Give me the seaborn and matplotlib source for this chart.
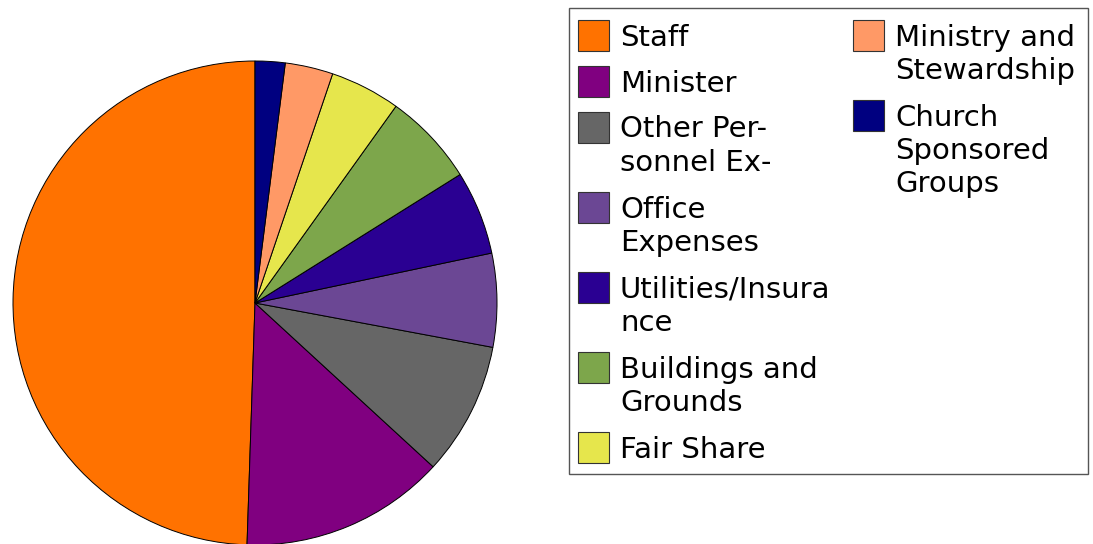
import numpy as np
import pandas as pd

import matplotlib
matplotlib.use('Agg')
import matplotlib.pyplot as plt
from matplotlib.patches import Rectangle
import seaborn as sns

## =============================== ##
## data

categories = ['Staff', 'Minister', 'Other Personnel Expenses', 'Office Expenses',
              'Utilities/Insurance', 'Buildings and Grounds', 'Fair Share',
              'Ministry and Stewardship', 'Church Sponsored Groups']
shares = [49.5, 13.7, 8.9, 6.25, 5.6, 6.2, 4.7, 3.2, 2.0]
legend_labels = ['Staff', 'Minister', 'Other Per-\nsonnel Ex-', 'Office\nExpenses',
                 'Utilities/Insura\nnce', 'Buildings and\nGrounds', 'Fair Share',
                 'Ministry and\nStewardship', 'Church\nSponsored\nGroups']
colors = ['#ff7200', '#800080', '#666666', '#6b4794', '#2a0092',
          '#7da64b', '#e6e64c', '#ff9966', '#000080']

df = pd.DataFrame({'category': categories, 'share': shares,
                   'label': legend_labels, 'color': colors})

## =============================== ##

sns.set_style('white')
plt.rcParams['font.family'] = ['DejaVu Sans']

W, H = 1093, 544
fig = plt.figure(figsize=(W / 100, H / 100), dpi=100)

def px(x, y):
    return x / W, 1 - y / H

## pie
ax = fig.add_axes([13 / W, (H - 545) / H, 484 / W, 484 / H])
ax.pie(df['share'], colors=df['color'], startangle=90, counterclock=True,
       wedgeprops=dict(edgecolor='black', linewidth=0.7))
ax.set_xlim(-1, 1)
ax.set_ylim(-1, 1)
ax.set_aspect('equal')
ax.axis('off')

## legend (two columns, 7 + 2 entries)
frame = Rectangle(px(569, 474), 519 / W, 466 / H, transform=fig.transFigure,
                  facecolor='white', edgecolor='#555555', linewidth=1.0)
fig.patches.append(frame)

columns = [(df.iloc[:7], 578), (df.iloc[7:], 853)]
for sub, x0 in columns:
    top = 20
    for _, row in sub.iterrows():
        nlines = row['label'].count('\n') + 1
        handle = Rectangle(px(x0, top + 31), 31 / W, 31 / H, transform=fig.transFigure,
                           facecolor=row['color'], edgecolor='#333333', linewidth=0.8)
        fig.patches.append(handle)
        for i, line in enumerate(row['label'].split('\n')):
            tx, ty = px(x0 + 42, top + 25.5 + 33.5 * i)
            fig.text(tx, ty, line, fontsize=21, va='baseline', ha='left', color='black')
        top += 46 + 34 * (nlines - 1)

fig.savefig('out.png', dpi=100)
